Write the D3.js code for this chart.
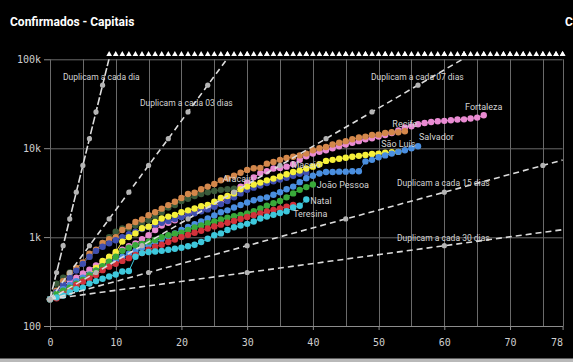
<!DOCTYPE html>
<html>
<head>
<meta charset="utf-8">
<script src="https://cdnjs.cloudflare.com/ajax/libs/d3/7.8.5/d3.min.js"></script>
<style>
  body { margin: 0; background: #000; }
  .axis text { font-family: "DejaVu Sans Mono", monospace; font-size: 10px; fill: #cfcfcf; }
  .axis path, .axis line { stroke: #8c8c8c; }
  .grid line { stroke: #6a6a6a; stroke-width: 1; }
  .note { font-family: Roboto, sans-serif; font-size: 8.5px; fill: #d4d4d4; }
</style>
</head>
<body>
<div id="chart"></div>
<script>
// casos confirmados por dia, contando a partir do dia com ~200 casos (indice = dia)
var fortaleza = [200,240,280,320,350,390,430,480,530,590,650,720,790,850,950,1050,1200,1350,1450,1550,
  1700,1800,1900,2000,2100,2250,2400,2750,3200,3700,4100,4700,5250,5500,5900,6000,6200,6600,7400,8100,
  8700,9100,9500,10000,10500,11000,11500,12000,12600,12900,13500,14100,14800,15800,17100,17600,18600,19200,19700,20100,
  20300,20600,21000,21100,21600,22100,23500]
var aracaju = [200,300,350,400,450,510,600,700,860,1000,1150,1250,1260,1350,1450,1550,1700,1900,2150,2300,
  2550,2700,2900,3050,3200,3300,3400,3450,3500]
var recife = [200,250,320,390,450,520,650,720,860,950,1000,1200,1320,1480,1580,1760,1900,2090,2290,2500,
  2750,3050,3150,3450,3700,3950,4350,4600,4900,5300,5700,5950,6000,6700,7000,7400,7750,8000,8300,8700,
  9500,10000,10300,11000,11500,12000,12600,13200,13500,14100,14200,14800,15100,15100,15500]
var maceio = [200,240,290,350,420,500,600,700,780,850,920,1000,1080,1150,1230,1300,1380,1450,1520,1600,
  1680,1760,1850,1950,2050,2200,2350,2550,2800,3100,3400,3600,3800,4050,4250,4450,4650,4900,5150,5300]
var saoLuis = [200,215,235,260,290,330,380,450,540,600,680,890,1000,1100,1260,1310,1480,1620,1700,1780,
  1900,2000,2100,2230,2300,2500,2750,2900,3100,3450,3700,3900,4100,4350,4550,4800,5100,5400,5600,5900,
  6200,6600,7200,7400,7600,7800,8000,8200,8400,8600,8700,8900,9000,9100]
var salvador = [200,230,260,290,320,350,380,420,460,500,550,600,650,700,760,820,880,950,1020,1100,
  1200,1300,1400,1500,1620,1750,1900,2000,2150,2300,2450,2600,2700,2800,3000,3200,3450,3700,4150,4600,
  4900,5200,5400,5400,5450,5450,5500,5500,7100,7400,7900,8300,8700,9100,9500,10000,10500]
var joaoPessoa = [200,230,250,270,300,330,370,420,470,530,600,700,760,810,840,890,930,1000,1050,1090,
  1120,1200,1280,1350,1430,1500,1580,1650,1720,1780,1850,1950,2100,2250,2400,2550,2800,3100,3400,3650,3900]
var teresina = [200,205,230,250,290,315,345,375,425,465,500,540,580,630,660,720,780,820,880,940,
  1000,1060,1120,1180,1250,1320,1380,1450,1520,1600,1680,1760,1850,1940,2020,2100,2200,2300]
var natal = [200,210,220,240,260,270,300,320,340,360,380,410,415,600,660,680,690,700,720,740,
  760,790,820,880,960,1050,1100,1200,1290,1350,1410,1500,1620,1700,1780,1870,1950,2150,2250,2650]

var capitais = ["Fortaleza", "Aracaju", "Recife", "Maceió", "São Luís", "Salvador", "João Pessoa", "Teresina", "Natal"]
var valores = [fortaleza, aracaju, recife, maceio, saoLuis, salvador, joaoPessoa, teresina, natal]
var cores = ["#e98bd2", "#3a5a3a", "#d3874b", "#3f4fb0", "#f6f03a", "#4a8fe0", "#39a93a", "#d2323b", "#3ec8dc"]

// linhas de referencia: casos dobram a cada N dias, partindo de 200
var periodos = [1, 3, 7, 15, 30]
var periodoLabels = ["Duplicam a cada dia", "Duplicam a cada 03 dias", "Duplicam a cada 07 dias",
  "Duplicam a cada 15 dias", "Duplicam a cada 30 dias"]
var casosIniciais = 200

var xTicks = [0, 10, 20, 30, 40, 50, 60, 70, 78]
var yTicks = [100, 1000, 10000, 100000]
var yTickLabels = ["100", "1k", "10k", "100k"]

function drawChart() {

  let dimensions = {
    width: 573,
    height: 362,
    margin: {
      top: 59.3,
      right: 10.4,
      bottom: 36,
      left: 50,
    },
  }
  dimensions.boundedWidth = dimensions.width
    - dimensions.margin.left
    - dimensions.margin.right
  dimensions.boundedHeight = dimensions.height
    - dimensions.margin.top
    - dimensions.margin.bottom

  var svg = d3.select("#chart")
    .append("svg")
    .attr("width", dimensions.width)
    .attr("height", dimensions.height)

  svg.append("rect")
    .attr("width", dimensions.width)
    .attr("height", dimensions.height)
    .attr("fill", "#000")

  svg.append("rect")
    .attr("y", 358.5)
    .attr("width", dimensions.width)
    .attr("height", 4)
    .attr("fill", "#b9b9b9")

  svg.append("text")
    .attr("x", 10)
    .attr("y", 26)
    .style("font-family", "Roboto, sans-serif")
    .style("font-weight", "bold")
    .style("font-size", "12px")
    .attr("fill", "#fff")
    .text("Confirmados - Capitais")

  // start of the next panel's title, cut by the window
  svg.append("text")
    .attr("x", 565)
    .attr("y", 26)
    .style("font-family", "Roboto, sans-serif")
    .style("font-weight", "bold")
    .style("font-size", "12px")
    .attr("fill", "#fff")
    .text("C")

  var bounds = svg.append("g")
    .attr("transform", `translate(${dimensions.margin.left}, ${dimensions.margin.top})`)

  // scales
  var xScale = d3.scaleLinear()
    .domain([0, 78])
    .range([0, dimensions.boundedWidth])

  var yScale = d3.scaleLog()
    .domain([100, 100000])
    .range([dimensions.boundedHeight, 0])

  // grid
  var grid = bounds.append("g").attr("class", "grid")
  grid.selectAll(".vline")
    .data(d3.range(0, 76, 5).concat([78]))
    .enter()
    .append("line")
    .attr("x1", d => Math.round(xScale(d)) + 0.5)
    .attr("x2", d => Math.round(xScale(d)) + 0.5)
    .attr("y1", 0)
    .attr("y2", dimensions.boundedHeight)

  grid.selectAll(".hline")
    .data(yTicks.slice(1))
    .enter()
    .append("line")
    .attr("x1", 0)
    .attr("x2", dimensions.boundedWidth)
    .attr("y1", d => Math.round(yScale(d)) + 0.5)
    .attr("y2", d => Math.round(yScale(d)) + 0.5)

  // axes
  var xAxisGenerator = d3.axisBottom()
    .scale(xScale)
    .tickValues(xTicks)
    .tickSize(4)
    .tickSizeOuter(0)
    .tickPadding(9)
    .tickFormat(d3.format("d"))

  var xAxis = bounds.append("g")
    .attr("class", "axis")
    .attr("transform", `translate(0, ${dimensions.boundedHeight})`)
    .call(xAxisGenerator)

  xAxis.selectAll(".tick text")
    .filter(d => d == 78)
    .style("text-anchor", "end")

  var yAxisGenerator = d3.axisLeft()
    .scale(yScale)
    .tickValues(yTicks)
    .tickSize(6)
    .tickSizeOuter(0)
    .tickPadding(3)
    .tickFormat((d, i) => yTickLabels[i])

  var yAxis = bounds.append("g")
    .attr("class", "axis")
    .call(yAxisGenerator)
  yAxis.select(".domain").remove()

  bounds.append("clipPath")
    .attr("id", "plotClip")
    .append("rect")
    .attr("x", -4)
    .attr("y", 0)
    .attr("width", dimensions.boundedWidth + 8)
    .attr("height", dimensions.boundedHeight + 4)

  // series
  var lineGenerator = d3.line()
    .x((d, i) => xScale(i))
    .y(d => yScale(d))

  var serie = bounds.selectAll(".serie")
    .data(valores)
    .enter()
    .append("g")
    .attr("class", "serie")

  serie.append("path")
    .attr("d", d => lineGenerator(d))
    .attr("fill", "none")
    .attr("stroke", (d, i) => cores[i])
    .attr("stroke-width", 1)

  serie.each(function(d, k) {
    d3.select(this).selectAll("circle")
      .data(d)
      .enter()
      .append("circle")
      .attr("cx", (v, i) => xScale(i))
      .attr("cy", v => yScale(v))
      .attr("r", 3.2)
      .attr("fill", cores[k])
  })

  // reference lines
  periodos.forEach(function(p) {
    var dias = d3.range(0, 79, p)
    var valor = d => casosIniciais * Math.pow(2, d / p)
    var g = bounds.append("g")

    g.append("path")
      .attr("clip-path", "url(#plotClip)")
      .attr("d", d3.line().x(d => xScale(d)).y(d => yScale(valor(d)))([0, 78]))
      .attr("fill", "none")
      .attr("stroke", "#dcdcdc")
      .attr("stroke-width", 1.6)
      .attr("stroke-dasharray", p == 1 ? "8,2" : "6,4")

    g.selectAll("circle")
      .data(dias.filter(d => valor(d) <= 100000))
      .enter()
      .append("circle")
      .attr("cx", d => xScale(d))
      .attr("cy", d => yScale(valor(d)))
      .attr("r", 2.6)
      .attr("fill", "#b4b4b4")

    g.selectAll(".out")
      .data(dias.filter(d => valor(d) > 100000))
      .enter()
      .append("path")
      .attr("d", d3.symbol(d3.symbolTriangle, 14))
      .attr("transform", d => `translate(${xScale(d)}, ${yScale(100000) - 5})`)
      .attr("fill", "#fff")
  })

  // reference line labels
  var notePos = [[13, 21], [90, 47], [321, 21], [347, 127], [347, 182]]
  bounds.selectAll(".refnote")
    .data(periodoLabels)
    .enter()
    .append("text")
    .attr("class", "note")
    .attr("x", (d, i) => notePos[i][0])
    .attr("y", (d, i) => notePos[i][1])
    .text(d => d)

  // city labels at the last point of each series
  var labelStyle = {
    "Fortaleza": { anchor: "middle", dx: 0, dy: -5 },
    "Aracaju": { anchor: "middle", dx: 4, dy: -7 },
    "Recife": { anchor: "middle", dx: 0, dy: -4 },
    "Maceió": { anchor: "middle", dx: 0, dy: -5 },
    "São Luís": { anchor: "middle", dx: 0, dy: -5 },
    "Salvador": { anchor: "start", dx: 1, dy: -6 },
    "João Pessoa": { anchor: "start", dx: 4, dy: 3.5 },
    "Teresina": { anchor: "start", dx: 0, dy: 12 },
    "Natal": { anchor: "start", dx: 4, dy: 4.5 },
  }

  bounds.selectAll(".cidade")
    .data(capitais)
    .enter()
    .append("text")
    .attr("class", "note")
    .style("font-size", "9px")
    .attr("text-anchor", d => labelStyle[d].anchor)
    .attr("x", (d, i) => xScale(valores[i].length - 1) + labelStyle[d].dx)
    .attr("y", (d, i) => yScale(valores[i][valores[i].length - 1]) + labelStyle[d].dy)
    .text(d => d)
}

drawChart()
</script>
</body>
</html>
